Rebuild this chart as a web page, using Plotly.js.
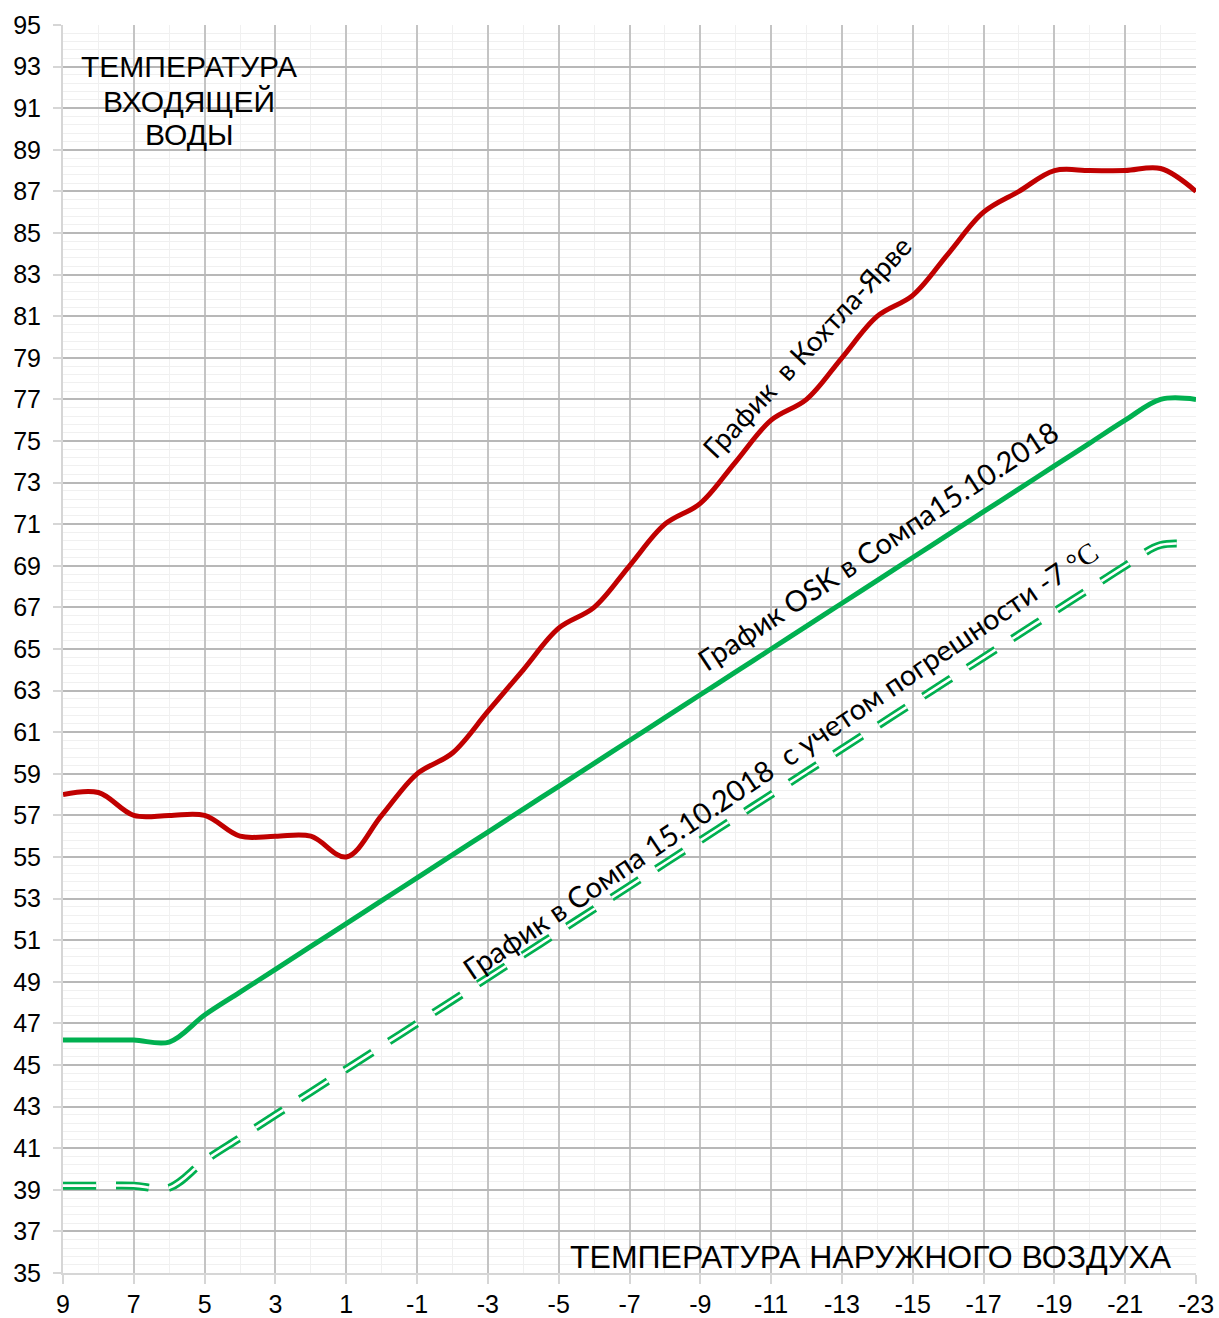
<!DOCTYPE html>
<html>
<head>
<meta charset="utf-8">
<script src="https://cdn.plot.ly/plotly-3.0.1.min.js"></script>
<style>
html,body{margin:0;padding:0;background:#fff;}
#chart{width:1219px;height:1318px;}
</style>
</head>
<body>
<div id="chart"></div>
<script>
// Outdoor temperature (x axis, reversed)
const outdoorTemp = [9,8,7,6,5,4,3,2,1,0,-1,-2,-3,-4,-5,-6,-7,-8,-9,-10,-11,-12,-13,-14,-15,-16,-17,-18,-19,-20,-21,-22,-23];
// Kohtla-Järve schedule
const kohtlaJarve = [58,58.1,57,57,57,56,56,56,55,57,59,60,62,64,66,67,69,71,72,74,76,77,79,81,82,84,86,87,88,88,88,88.1,87];
// OSK schedule in Sompa 15.10.2018
const oskSompa = [46.2,46.2,46.2,46.1,47.4,48.5,49.6,50.7,51.8,52.9,54.0,55.1,56.2,57.3,58.4,59.5,60.6,61.7,62.8,63.9,65.0,66.1,67.2,68.3,69.4,70.5,71.6,72.7,73.8,74.9,76.0,77.0,77.0];
// Sompa schedule with -7 °C error
const sompaError = [39.2,39.2,39.2,39.1,40.4,41.5,42.6,43.7,44.8,45.9,47.0,48.1,49.2,50.3,51.4,52.5,53.6,54.7,55.8,56.9,58.0,59.1,60.2,61.3,62.4,63.5,64.6,65.7,66.8,67.9,69.0,70.0,70.0];

const xTickVals = [9,7,5,3,1,-1,-3,-5,-7,-9,-11,-13,-15,-17,-19,-21,-23];
const yTickVals = [35,37,39,41,43,45,47,49,51,53,55,57,59,61,63,65,67,69,71,73,75,77,79,81,83,85,87,89,91,93,95];

const traces = [
  {x: outdoorTemp, y: sompaError, mode:'lines', line:{color:'#00b050', width:8, dash:'33px,20px', shape:'spline', smoothing:1}, hoverinfo:'skip'},
  {x: outdoorTemp, y: sompaError, mode:'lines', line:{color:'#ffffff', width:2.6, dash:'33px,20px', shape:'spline', smoothing:1}, hoverinfo:'skip'},
  {x: outdoorTemp, y: oskSompa, mode:'lines', line:{color:'#00b050', width:5, shape:'spline', smoothing:1}},
  {x: outdoorTemp, y: kohtlaJarve, mode:'lines', line:{color:'#c00000', width:5, shape:'spline', smoothing:1}}
];

const calibriLike = 'Lato, "Open Sans", sans-serif';
const arialLike = '"Liberation Sans", Arial, sans-serif';

const layout = {
  width:1219, height:1318,
  margin:{l:63, r:23, t:25, b:45},
  paper_bgcolor:'#ffffff', plot_bgcolor:'#ffffff',
  showlegend:false,
  xaxis:{
    range:[9,-23], tickmode:'array', tickvals:xTickVals, ticktext:xTickVals.map(String),
    showgrid:true, gridcolor:'#c4c4c4', gridwidth:2,
    minor:{dtick:1, tick0:9, showgrid:true, gridcolor:'#f0f0f0', gridwidth:1},
    zeroline:false, showline:true, linecolor:'#d6d6d6', linewidth:2, mirror:false,
    ticks:'outside', ticklen:9, tickwidth:2, tickcolor:'#d6d6d6',
    ticklabelstandoff:-1,
    tickfont:{family:arialLike, size:25, color:'#000'}
  },
  yaxis:{
    range:[35,95], tickmode:'array', tickvals:yTickVals, ticktext:yTickVals.map(String),
    showgrid:true, gridcolor:'#b8b8b8', gridwidth:2,
    minor:{dtick:0.4, tick0:35, showgrid:true, gridcolor:'#f0f0f0', gridwidth:1},
    zeroline:false, showline:true, linecolor:'#d6d6d6', linewidth:2,
    ticks:'outside', ticklen:8, tickwidth:2, tickcolor:'#d6d6d6',
    ticklabelstandoff:7,
    tickfont:{family:arialLike, size:25, color:'#000'}
  },
  annotations:[
    {xref:'paper', yref:'paper', x:(189-63)/1133, y:1-(67-25)/1248, text:'ТЕМПЕРАТУРА', showarrow:false, xanchor:'center', yanchor:'middle', font:{family:arialLike, size:30, color:'#000'}},
    {xref:'paper', yref:'paper', x:(189-63)/1133, y:1-(101-25)/1248, text:'ВХОДЯЩЕЙ', showarrow:false, xanchor:'center', yanchor:'middle', font:{family:arialLike, size:30, color:'#000'}},
    {xref:'paper', yref:'paper', x:(189-63)/1133, y:1-(134-25)/1248, text:'ВОДЫ', showarrow:false, xanchor:'center', yanchor:'middle', font:{family:arialLike, size:30, color:'#000'}},
    {xref:'paper', yref:'paper', x:(871-63)/1133, y:1-(1257-25)/1248, text:'ТЕМПЕРАТУРА НАРУЖНОГО ВОЗДУХА', showarrow:false, xanchor:'center', yanchor:'middle', font:{family:arialLike, size:32, color:'#000'}},
    {x:-12.0, y:79.5, text:'График&nbsp;&nbsp;в Кохтла-Ярве', showarrow:false, xanchor:'center', yanchor:'middle', textangle:-47, font:{family:calibriLike, size:28, color:'#000'}},
    {x:-14.0, y:70.0, text:'График OSK в Сомпа15.10.2018', showarrow:false, xanchor:'center', yanchor:'middle', textangle:-33.5, font:{family:calibriLike, size:29, color:'#000'}},
    {x:-11.25, y:59.7, text:'График в Сомпа 15.10.2018&nbsp;&nbsp;с учетом погрешности -7 <span style="font-family:\'Liberation Serif\',serif">°C</span>', showarrow:false, xanchor:'center', yanchor:'middle', textangle:-34, font:{family:calibriLike, size:29, color:'#000'}}
  ]
};

Plotly.newPlot('chart', traces, layout, {displayModeBar:false, staticPlot:true});
</script>
</body>
</html>
